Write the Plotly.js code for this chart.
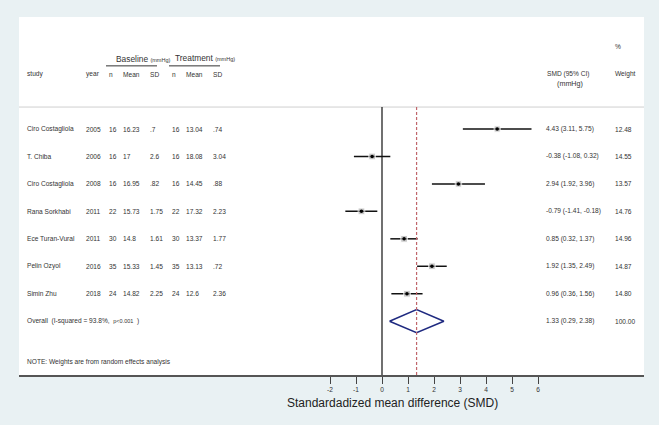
<!DOCTYPE html>
<html>
<head>
<meta charset="utf-8">
<script src="https://cdn.plot.ly/plotly-3.0.1.min.js"></script>
<style>
  body { margin: 0; background: #e9f1f3; }
  #forest { width: 659px; height: 425px; }
</style>
</head>
<body>
<div id="forest"></div>
<script>
// study table
var study = ['Ciro Costagliola', 'T. Chiba', 'Ciro Costagliola', 'Rana Sorkhabi', 'Ece Turan-Vural', 'Pelin Ozyol', 'Simin Zhu'];
var year = ['2005', '2006', '2008', '2011', '2011', '2016', '2018'];
var nBase = ['16', '16', '16', '22', '30', '35', '24'];
var meanBase = ['16.23', '17', '16.95', '15.73', '14.8', '15.33', '14.82'];
var sdBase = ['.7', '2.6', '.82', '1.75', '1.61', '1.45', '2.25'];
var nTreat = ['16', '16', '16', '22', '30', '35', '24'];
var meanTreat = ['13.04', '18.08', '14.45', '17.32', '13.37', '13.13', '12.6'];
var sdTreat = ['.74', '3.04', '.88', '2.23', '1.77', '.72', '2.36'];

// effect sizes
var smd = [4.43, -0.38, 2.94, -0.79, 0.85, 1.92, 0.96];
var ciLow = [3.11, -1.08, 1.92, -1.41, 0.32, 1.35, 0.36];
var ciHigh = [5.75, 0.32, 3.96, -0.18, 1.37, 2.49, 1.56];
var weight = [12.48, 14.55, 13.57, 14.76, 14.96, 14.87, 14.80];

var overallSmd = 1.33, overallLow = 0.29, overallHigh = 2.38, overallWeight = 100;

var tickVals = [-2, -1, 0, 1, 2, 3, 4, 5, 6];

var rows = study.map((s, i) => i + 1);
var overallRow = study.length + 1;

// plot area in pixels: 19..644 wide
function px(x) { return (x - 19) / 625; }

var FONT = 'Liberation Sans, Arial, sans-serif';
var txtFont = {family: FONT, size: 6.6, color: '#333'};

var annotations = [];
function addText(x, y, text, opts) {
    annotations.push(Object.assign({
        xref: 'paper', yref: 'y', x: px(x), y: y, text: text,
        showarrow: false, xanchor: 'left', yanchor: 'middle', font: txtFont
    }, opts || {}));
}

// column x positions (pixels)
var cols = [25, 84, 107, 121, 148, 170, 184, 211];
var header = ['study', 'year', 'n', 'Mean', 'SD', 'n', 'Mean', 'SD'];
header.forEach((h, j) => addText(cols[j], -1.0, h));
addText(114, -1.55, 'Baseline <span style="font-size:5.5px">(mmHg)</span>', {font: Object.assign({}, txtFont, {size: 8.4})});
addText(173, -1.6, 'Treatment <span style="font-size:5.5px">(mmHg)</span>', {font: Object.assign({}, txtFont, {size: 8.4})});
addText(613, -2.02, '%');
addText(613, -1.0, 'Weight');
addText(545, -1.0, 'SMD (95% CI)');
addText(555, -0.65, '(mmHg)', {font: Object.assign({}, txtFont, {size: 7.2})});

var fmt = v => v.toFixed(2);
study.forEach((s, i) => {
    var r = rows[i];
    var vals = [s, year[i], nBase[i], meanBase[i], sdBase[i], nTreat[i], meanTreat[i], sdTreat[i]];
    vals.forEach((v, j) => addText(cols[j], r, v));
    addText(544, r, fmt(smd[i]) + ' (' + fmt(ciLow[i]) + ', ' + fmt(ciHigh[i]) + ')');
    addText(613, r, fmt(weight[i]));
});
addText(25, overallRow, 'Overall  (I-squared = 93.8%,  <span style="font-size:5.5px">p&lt;0.001</span>  )');
addText(544, overallRow, fmt(overallSmd) + ' (' + fmt(overallLow) + ', ' + fmt(overallHigh) + ')');
addText(613, overallRow, overallWeight.toFixed(2));
addText(25, 9.49, 'NOTE: Weights are from random effects analysis');

// axis title (sits off-centre in the original)
annotations.push({
    xref: 'x', yref: 'paper', x: 0.4, y: -0.052, yanchor: 'top', xanchor: 'center',
    text: 'Standardadized mean difference (SMD)', showarrow: false,
    font: {family: FONT, size: 12, color: '#222'}
});

var yTop = 0.2, yBottom = 9.96;

var ciTrace = {
    x: smd, y: rows, type: 'scatter', mode: 'markers',
    marker: {symbol: 'square', size: weight.map(w => Math.sqrt(w) * 1.75), color: '#b0b0b0'},
    error_x: {type: 'data', symmetric: false,
        array: smd.map((v, i) => ciHigh[i] - v),
        arrayminus: smd.map((v, i) => v - ciLow[i]),
        color: '#111', thickness: 1.5, width: 0},
    hoverinfo: 'x+y'
};
var dotTrace = {
    x: smd, y: rows, type: 'scatter', mode: 'markers',
    marker: {symbol: 'circle', size: 3.5, color: '#000'}, hoverinfo: 'skip'
};
var h = 0.42;
var diamond = {
    x: [overallLow, overallSmd, overallHigh, overallSmd, overallLow],
    y: [overallRow, overallRow - h, overallRow, overallRow + h, overallRow],
    type: 'scatter', mode: 'lines',
    line: {color: '#1f2a80', width: 1.5}, hoverinfo: 'skip'
};

var shapes = [
    {type: 'line', xref: 'paper', yref: 'y', x0: 0, x1: 1, y0: yTop, y1: yTop, line: {color: '#cfcfcf', width: 1}},
    {type: 'line', xref: 'x', yref: 'y', x0: 0, x1: 0, y0: yTop, y1: yBottom, line: {color: '#111', width: 1.2}},
    {type: 'line', xref: 'x', yref: 'y', x0: overallSmd, x1: overallSmd, y0: yTop, y1: yBottom, line: {color: '#c0666b', width: 1.2, dash: '3px,2px'}},
    {type: 'line', xref: 'paper', yref: 'y', x0: px(106), x1: px(157), y0: -1.3, y1: -1.3, line: {color: '#333', width: 1}},
    {type: 'line', xref: 'paper', yref: 'y', x0: px(169), x1: px(220), y0: -1.3, y1: -1.3, line: {color: '#333', width: 1}}
];

var layout = {
    width: 659, height: 425,
    margin: {l: 19, r: 15, t: 17, b: 50},
    paper_bgcolor: '#e9f1f3', plot_bgcolor: '#ffffff',
    showlegend: false,
    xaxis: {
        range: [(19 - 382) / 26, (644 - 382) / 26],
        tickvals: tickVals, ticktext: tickVals.map(String),
        ticks: 'outside', ticklen: 7, tickcolor: '#444', tickwidth: 1,
        showline: true, linecolor: '#555', linewidth: 1.5,
        showgrid: false, zeroline: false,
        tickfont: {family: FONT, size: 6.6, color: '#333'}
    },
    yaxis: {
        range: [yBottom, -3.08],
        showticklabels: false, showgrid: false, zeroline: false, showline: false, ticks: ''
    },
    shapes: shapes,
    annotations: annotations
};

Plotly.newPlot('forest', [ciTrace, dotTrace, diamond], layout, {displayModeBar: false});
</script>
</body>
</html>
